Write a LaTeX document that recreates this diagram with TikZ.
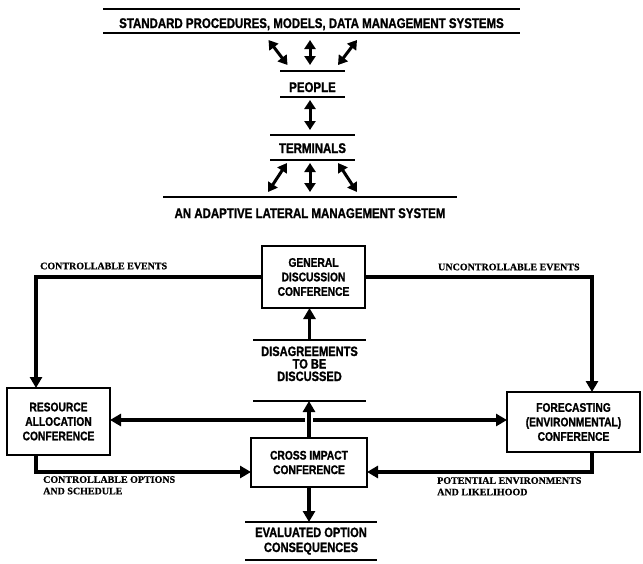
\documentclass[tikz,border=0pt]{standalone}
\usepackage{fontspec}
\newfontfamily\condfont[FakeStretch=0.82,FakeBold=1.2]{Liberation Sans}
\newfontfamily\notefont[FakeBold=0.6]{Liberation Serif}
\usetikzlibrary{arrows.meta,calc}

\begin{document}
\begin{tikzpicture}[x=1pt,y=-1pt,
    barlbl/.style={inner xsep=0pt,inner ysep=0pt,outer sep=0pt,anchor=north,align=center,
      font=\condfont\bfseries\fontsize{14}{15}\selectfont},
    confbox/.style={draw,line width=2pt,inner sep=0pt,outer sep=0pt,align=center,
      font=\condfont\bfseries\fontsize{12.5}{14.5}\selectfont},
    flow/.style={line width=3.5pt,-{Triangle[length=11pt,width=12pt]}},
    dbl/.style={line width=3pt,{Triangle[length=9pt,width=11pt]}-{Triangle[length=9pt,width=11pt]}},
    barline/.style={line width=1.8pt},
    note/.style={font=\notefont\bfseries\fontsize{10}{11.5}\selectfont,inner sep=0pt,align=left}]
  \useasboundingbox (0,0) rectangle (643,563);

  % Top stack
  \node[barlbl,minimum width=417pt,text height=19pt,text depth=5pt] (std) at (311.5,9)
    {STANDARD PROCEDURES, MODELS, DATA MANAGEMENT SYSTEMS};
  \node[barlbl,minimum width=65pt,text height=21pt,text depth=5pt] (people) at (312.5,71) {PEOPLE};
  \node[barlbl,minimum width=85pt,text height=18pt,text depth=7pt] (term) at (312.5,135) {TERMINALS};
  \node[barlbl,minimum width=294pt,text height=21pt,text depth=3pt] (alms) at (310,197)
    {AN ADAPTIVE LATERAL MANAGEMENT SYSTEM};

  \foreach \dx/\ex in {-43/-25, -1.5/-2.5, 45.5/25.5}
    \draw[dbl] ($(std.south)+(\dx,7)$) -- ($(people.north)+(\ex,-6)$);
  \draw[dbl] ($(people.south)+(-2.5,3)$) -- ($(term.north)+(-2.5,-5)$);
  \foreach \dx/\ex in {-25.5/-42, -2.5/0, 25.5/47}
    \draw[dbl] ($(term.south)+(\dx,3)$) -- ($(alms.north)+(\ex,-5)$);

  % Conferences
  \node[confbox,minimum width=103pt,minimum height=62pt] (gdc) at (313.5,277)
    {GENERAL\\DISCUSSION\\CONFERENCE};
  \node[confbox,minimum width=103pt,minimum height=67pt] (res) at (58.5,421.5)
    {RESOURCE\\ALLOCATION\\CONFERENCE};
  \node[confbox,minimum width=133pt,minimum height=60pt] (fore) at (573.5,422)
    {FORECASTING\\(ENVIRONMENTAL)\\CONFERENCE};
  \node[confbox,minimum width=116pt,minimum height=49pt] (cross) at (309,462.5)
    {CROSS IMPACT\\CONFERENCE};

  \node[barlbl,font=\condfont\bfseries\fontsize{13.5}{12.5}\selectfont,
    minimum width=113pt,text height=41pt,text depth=20pt] (disc) at (309.5,340)
    {DISAGREEMENTS\\TO BE\\DISCUSSED};
  \node[barlbl,font=\condfont\bfseries\fontsize{13.5}{15}\selectfont,
    minimum width=132pt,text height=30pt,text depth=8pt] (evald) at (311,522)
    {EVALUATED OPTION\\CONSEQUENCES};

  % Rules above and below the labels
  \foreach \n in {std,people,term,disc,evald} {
    \draw[barline] (\n.north west) -- (\n.north east);
    \draw[barline] (\n.south west) -- (\n.south east);
  }
  \draw[barline] (alms.north west) -- (alms.north east);

  % Flows
  \coordinate (lft) at (36,0);
  \coordinate (rgt) at (592,0);
  \coordinate (low) at (0,472);
  \coordinate (hub) at (309,420);
  \draw[flow] (gdc.west) -| (lft |- res.north);
  \draw[flow] (gdc.east) -| (rgt |- fore.north);
  \draw[flow] (lft |- res.south) |- (cross.west |- low);
  \draw[flow] (rgt |- fore.south) |- (cross.east |- low);
  \draw[flow,{Triangle[length=11pt,width=12pt]}-] (res.east |- hub) -- ($(hub)+(-4,0)$);
  \draw[flow,{Triangle[length=11pt,width=12pt]}-] (fore.west |- hub) -- ($(hub)+(4,0)$);
  \draw[flow] (cross.north) -- (cross.north |- disc.south);
  \draw[flow] (disc.north) -- (disc.north |- gdc.south);
  \draw[flow] (cross.south) -- (cross.south |- evald.north);

  \node[note,anchor=west] (ce) at (40,266) {CONTROLLABLE EVENTS};
  \node[note,anchor=west] (ue) at (438,267) {UNCONTROLLABLE EVENTS};
  \node[note,anchor=north west] (co) at (43,476) {CONTROLLABLE OPTIONS\\AND SCHEDULE};
  \node[note,anchor=north west] (pe) at (437,477) {POTENTIAL ENVIRONMENTS\\AND LIKELIHOOD};
\end{tikzpicture}
\end{document}
